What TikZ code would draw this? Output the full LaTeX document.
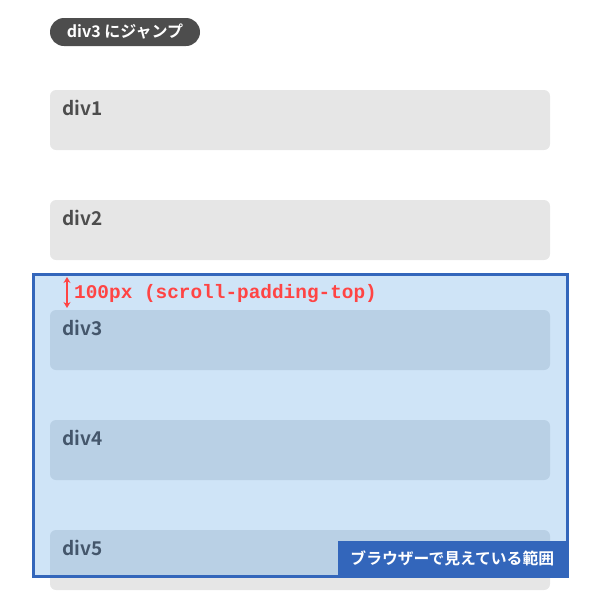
\documentclass[tikz,border=0pt]{standalone}
\usetikzlibrary{arrows.meta}
\usepackage{fontspec}
\setmainfont{Noto Sans CJK JP}[BoldFont={* Bold}]
\newfontfamily\monob{Liberation Mono}[BoldFont={* Bold}]
\definecolor{boxgray}{HTML}{E6E6E6}
\definecolor{txtgray}{HTML}{4D4D4D}
\definecolor{viewfill}{HTML}{CFE4F7}
\definecolor{boxblue}{HTML}{B9D0E5}
\definecolor{txtblue}{HTML}{44566B}
\definecolor{viewline}{HTML}{3366BB}
\definecolor{redc}{HTML}{FF4444}
\tikzset{
  divbox/.style={fill=boxgray, rounded corners=6pt, draw=none},
  divboxin/.style={fill=boxblue, rounded corners=6pt, draw=none},
  divlabel/.style={anchor=base west, inner sep=0pt, font=\fontsize{19}{22}\selectfont\bfseries, text=txtgray},
  divlabelin/.style={divlabel, text=txtblue},
}
\begin{document}
\begin{tikzpicture}[x=1pt,y=-1pt]
\useasboundingbox (0,0) rectangle (600,600);
% jump pill
\node[fill=txtgray, text=white, rounded corners=14pt, minimum width=150pt, minimum height=28pt, inner sep=0pt, font=\fontsize{16}{18}\selectfont\bfseries] (jump) at (125,32) {div3 にジャンプ};
% gray boxes
\path[divbox] (50,90) rectangle (550,150);
\node[divlabel] (l1) at (62,115) {div1};
\path[divbox] (50,200) rectangle (550,260);
\node[divlabel] (l2) at (62,225) {div2};
\path[divbox] (50,530) rectangle (550,590);
% viewport
\fill[viewfill] (33,274) rectangle (567,576);
\path[divboxin] (50,310) rectangle (550,370);
\node[divlabelin] (l3) at (62,335) {div3};
\path[divboxin] (50,420) rectangle (550,480);
\node[divlabelin] (l4) at (62,445) {div4};
\begin{scope}
\clip (33,274) rectangle (567,576);
\path[divboxin] (50,530) rectangle (550,590);
\end{scope}
\node[divlabelin] (l5) at (62,555) {div5};
\draw[viewline, line width=3pt] (33,274) rectangle (567,576);
% padding arrow
\coordinate (pa) at (67,277);
\coordinate (pb) at (67,308);
\draw[redc, line width=2pt, <->, >={Stealth[length=6pt,width=7pt]}] (pa) -- (pb);
\node[anchor=base west, inner sep=0pt, text=redc, font=\monob\fontsize{19.4}{22}\selectfont\bfseries] (pad) at (74,298) {100px (scroll-padding-top)};
% visible label
\node[fill=viewline, text=white, anchor=south east, minimum width=229pt, minimum height=35pt, inner sep=0pt, font=\fontsize{15.8}{18}\selectfont\bfseries] (vis) at (567,576) {ブラウザーで見えている範囲};
\end{tikzpicture}
\end{document}
